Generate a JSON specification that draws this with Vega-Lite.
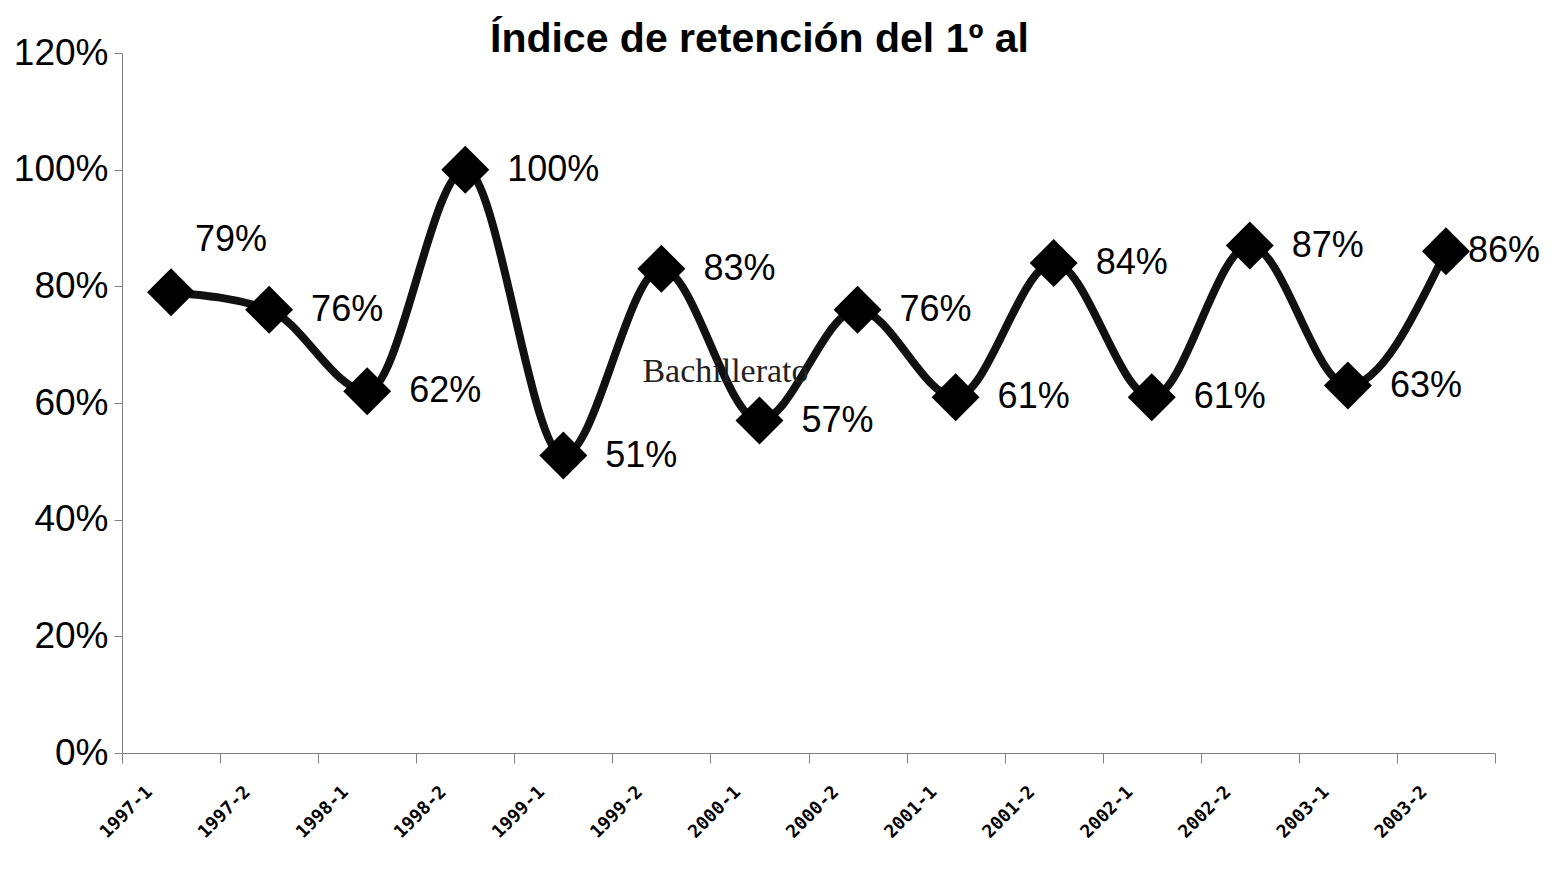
{
  "$schema": "https://vega.github.io/schema/vega-lite/v6.json",
  "width": 1373,
  "height": 700,
  "autosize": {"type": "none"},
  "padding": {"left": 122, "top": 53, "right": 60, "bottom": 127},
  "background": "white",
  "config": {"view": {"stroke": null}},
  "title": {
    "text": "Índice de retención del 1º al",
    "font": "Liberation Sans",
    "fontSize": 41,
    "fontWeight": "bold",
    "color": "black",
    "anchor": "middle",
    "dx": -49,
    "dy": 29,
    "offset": 2
  },
  "datasets": {
    "serie": [
      {"periodo": "1997-1", "valor": 0.79},
      {"periodo": "1997-2", "valor": 0.76},
      {"periodo": "1998-1", "valor": 0.62},
      {"periodo": "1998-2", "valor": 1.00},
      {"periodo": "1999-1", "valor": 0.51},
      {"periodo": "1999-2", "valor": 0.83},
      {"periodo": "2000-1", "valor": 0.57},
      {"periodo": "2000-2", "valor": 0.76},
      {"periodo": "2001-1", "valor": 0.61},
      {"periodo": "2001-2", "valor": 0.84},
      {"periodo": "2002-1", "valor": 0.61},
      {"periodo": "2002-2", "valor": 0.87},
      {"periodo": "2003-1", "valor": 0.63},
      {"periodo": "2003-2", "valor": 0.86}
    ],
    "nota": [
      {"periodo": "2000-1", "valor": 0.654, "texto": "Bachillerato"}
    ]
  },
  "data": {"name": "serie"},
  "encoding": {
    "x": {
      "field": "periodo",
      "type": "ordinal",
      "sort": null,
      "bandPosition": 0.5,
      "scale": {"type": "band", "paddingInner": 0, "paddingOuter": 0},
      "axis": {
        "title": null,
        "tickBand": "extent",
        "tickSize": 10,
        "tickColor": "#808080",
        "domainColor": "#808080",
        "labelAngle": -45,
        "labelAlign": "right",
        "labelBaseline": "middle",
        "labelFont": "DejaVu Sans Mono",
        "labelFontWeight": "bold",
        "labelFontSize": 18,
        "labelColor": "black",
        "labelPadding": 26,
        "labelOffset": -22
      }
    },
    "y": {
      "field": "valor",
      "type": "quantitative",
      "scale": {"domain": [0, 1.2], "nice": false, "zero": true},
      "axis": {
        "title": null,
        "format": ".0%",
        "values": [0, 0.2, 0.4, 0.6, 0.8, 1.0, 1.2],
        "grid": false,
        "tickSize": 8,
        "tickColor": "#808080",
        "domainColor": "#808080",
        "labelFont": "Liberation Sans",
        "labelFontSize": 37,
        "labelColor": "black",
        "labelPadding": 6
      }
    }
  },
  "layer": [
    {
      "mark": {"type": "line", "color": "#111111", "strokeWidth": 8, "interpolate": "monotone", "strokeJoin": "round"}
    },
    {
      "mark": {"type": "point", "shape": "diamond", "size": 2300, "filled": true, "color": "#000000", "opacity": 1}
    },
    {
      "transform": [{"filter": "datum.periodo !== '1997-1' && datum.periodo !== '2003-2'"}],
      "mark": {"type": "text", "align": "left", "baseline": "middle", "dx": 42, "dy": 0, "font": "Liberation Sans", "fontSize": 36, "color": "black"},
      "encoding": {"text": {"field": "valor", "type": "quantitative", "format": ".0%"}}
    },
    {
      "transform": [{"filter": "datum.periodo === '2003-2'"}],
      "mark": {"type": "text", "align": "left", "baseline": "middle", "dx": 22, "dy": 0, "font": "Liberation Sans", "fontSize": 36, "color": "black"},
      "encoding": {"text": {"field": "valor", "type": "quantitative", "format": ".0%"}}
    },
    {
      "transform": [{"filter": "datum.periodo === '1997-1'"}],
      "mark": {"type": "text", "align": "left", "baseline": "middle", "dx": 24, "dy": -52, "font": "Liberation Sans", "fontSize": 36, "color": "black"},
      "encoding": {"text": {"field": "valor", "type": "quantitative", "format": ".0%"}}
    },
    {
      "data": {"name": "nota"},
      "mark": {"type": "text", "align": "center", "baseline": "middle", "dx": -34, "font": "Liberation Serif", "fontSize": 34, "color": "#222222"},
      "encoding": {"text": {"field": "texto", "type": "nominal"}}
    }
  ]
}
